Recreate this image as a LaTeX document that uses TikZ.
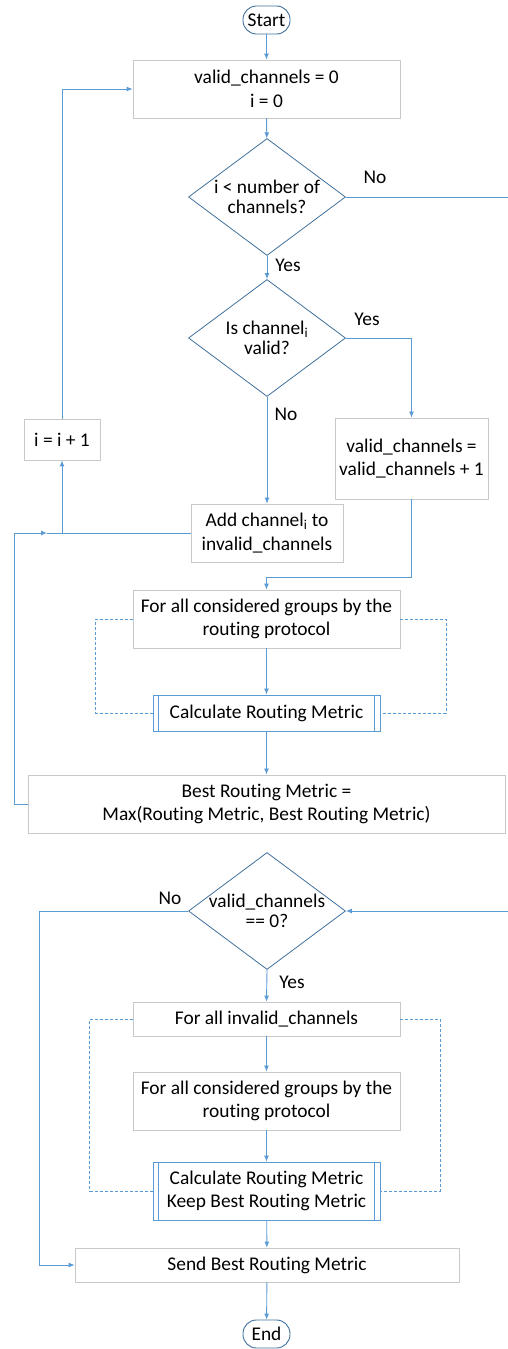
\documentclass[tikz,border=0pt]{standalone}
\usepackage{fontspec}
\setmainfont{Carlito}[Ligatures=NoCommon]
\usetikzlibrary{shapes.geometric,arrows.meta,shadows,calc}
\definecolor{conn}{HTML}{5B9BD5}
\definecolor{dia}{HTML}{41719C}
\definecolor{boxb}{HTML}{C8C8C8}
\begin{document}
\begin{tikzpicture}[x=1pt,y=-1pt,
  txt/.style={font=\fontsize{19.4}{23.5}\selectfont},
  procbox/.style={txt, draw=boxb, line width=0.8pt, fill=white, align=center, inner sep=0pt,
    drop shadow={shadow xshift=1pt, shadow yshift=-1.3pt, opacity=0.3, fill=black!40}},
  calcbox/.style={txt, draw=conn, line width=0.8pt, fill=white, align=center, inner sep=0pt},
  decis/.style={txt, shape=diamond, draw=dia, line width=0.8pt, fill=white, align=center,
    inner sep=-12pt, minimum width=157pt, minimum height=117pt},
  term/.style={txt, draw=dia, line width=0.9pt, fill=white, rounded corners=13.5pt,
    minimum width=47pt, minimum height=28pt, inner sep=0pt},
  arr/.style={draw=conn, line width=0.9pt, -{Latex[length=6pt,width=5pt]}},
  plain/.style={draw=conn, line width=0.9pt},
  dsh/.style={draw=conn, line width=0.8pt, dash pattern=on 3pt off 2pt},
  lbl/.style={txt, inner sep=0pt}
]
\useasboundingbox (0,0) rectangle (507,1349);

% nodes
\node[term] (start) at (266.5,20) {Start};
\node[procbox, minimum width=267pt, minimum height=58pt] (init) at (266.5,89) {valid\_channels = 0\\i = 0};
\node[decis] (d1) at (267,197) {i < number of\\[-3.5pt]channels?};
\node[decis] (d2) at (267,338) {Is channel\textsubscript{i}\\[-3.5pt]valid?};
\node[procbox, minimum width=153pt, minimum height=81pt] (valid) at (411.5,458.5) {valid\_channels =\\valid\_channels + 1};
\node[procbox, minimum width=152pt, minimum height=58pt] (add) at (267,533) {Add channel\textsubscript{i} to\\invalid\_channels};
\node[procbox, minimum width=76pt, minimum height=41pt] (inc) at (62,439.5) {i = i + 1};
\node[procbox, minimum width=267pt, minimum height=58pt] (fa1) at (266.5,619) {For all considered groups by the\\routing protocol};
\node[calcbox, minimum width=227pt, minimum height=36pt] (calc1) at (266.5,713) {Calculate Routing Metric};
\node[procbox, minimum width=477pt, minimum height=58pt] (best) at (266.5,804) {Best Routing Metric =\\Max(Routing Metric, Best Routing Metric)};
\node[decis] (d3) at (267,911) {valid\_channels\\[-3.5pt]== 0?};
\node[procbox, minimum width=267pt, minimum height=34pt] (fainv) at (266.5,1019) {For all invalid\_channels};
\node[procbox, minimum width=267pt, minimum height=58pt] (fa2) at (266.5,1101) {For all considered groups by the\\routing protocol};
\node[calcbox, minimum width=227pt, minimum height=58pt] (calc2) at (266.5,1191) {Calculate Routing Metric\\Keep Best Routing Metric};
\node[procbox, minimum width=384pt, minimum height=34pt] (send) at (267,1265) {Send Best Routing Metric};
\node[term] (end) at (266.5,1334) {End};

% inner bars of predefined-process boxes
\foreach \n in {calc1,calc2}{
  \draw[conn, line width=0.8pt] ([xshift=6pt]\n.north west) -- ([xshift=6pt]\n.south west);
  \draw[conn, line width=0.8pt] ([xshift=-6pt]\n.north east) -- ([xshift=-6pt]\n.south east);
}

% labels
\node[lbl] (no1) at (375,177) {No};
\node[lbl] (yes1) at (288,265) {Yes};
\node[lbl] (yes2) at (367,319) {Yes};
\node[lbl] (no2) at (286,414) {No};
\node[lbl] (no3) at (170,898) {No};
\node[lbl] (yes3) at (292,982) {Yes};

% connectors
\draw[arr] (start) -- (init);
\draw[arr] (init) -- (d1);
\draw[arr] (d1) -- (d2);
\draw[arr] (d1.east) -- (512,197) -- (512,911) -- (d3.east);
\draw[arr] (d2.east) -| (valid.north);
\draw[arr] (d2.south) -- (add.north);
\draw[arr] (add.west) -| (inc.south);
\draw[arr] (inc.north) |- (init.west);
\coordinate (j) at (47,533);
\coordinate (k) at (62,533);
\draw[arr] (best.west) -- (14,804) |- (j);
\draw[plain] (j) -- (k);
\draw[arr] (valid.south) |- ($(fa1.north)+(0,-12)$) -- (fa1.north);
\draw[arr] (fa1) -- (calc1);
\draw[dsh] (fa1.west) -- ++(-37,0) |- (calc1.west);
\draw[dsh] (fa1.east) -- ++(46,0) |- (calc1.east);
\draw[arr] (calc1) -- (best);
\draw[arr] (d3.south) -- (fainv.north);
\draw[arr] (d3.west) -- (39,911) |- (send.west);
\draw[arr] (fainv) -- (fa2);
\draw[arr] (fa2) -- (calc2);
\draw[dsh] (fainv.west) -- ++(-43,0) |- (calc2.west);
\draw[dsh] (fainv.east) -- ++(40,0) |- (calc2.east);
\draw[arr] (calc2) -- (send);
\draw[arr] (send) -- (end);
\end{tikzpicture}
\end{document}
